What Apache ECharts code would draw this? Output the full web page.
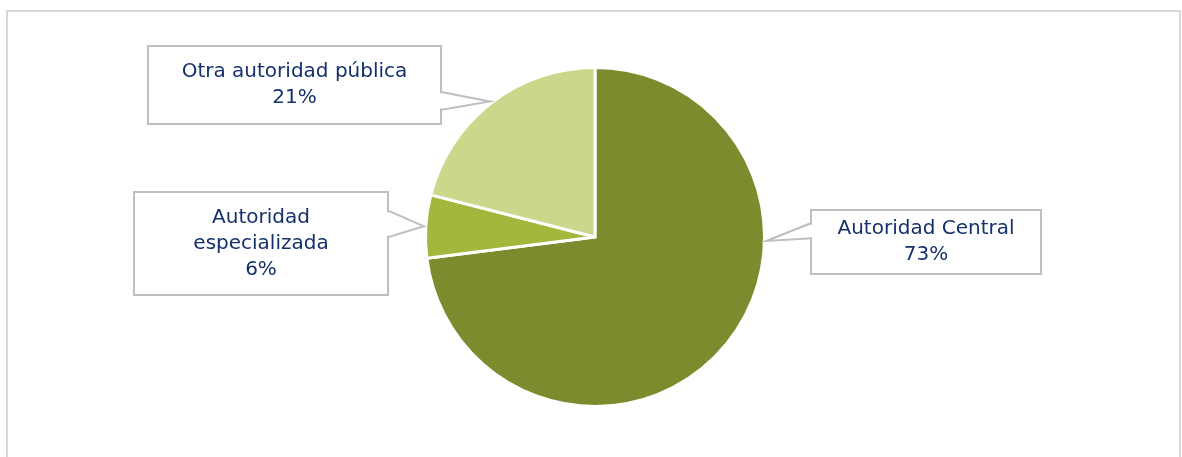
<!DOCTYPE html>
<html>
<head>
<meta charset="utf-8">
<script src="https://cdn.jsdelivr.net/npm/echarts@6/dist/echarts.min.js"></script>
<style>html,body{margin:0;padding:0;background:#fff}#c{width:1182px;height:457px}</style>
</head>
<body>
<div id="c"></div>
<script>
// ---- data ----
const categories = ['Autoridad Central', 'Autoridad especializada', 'Otra autoridad pública'];
const values = [73, 6, 21];
const colors = ['#7b8b2d', '#a4b63c', '#cbd88b'];

// ---- callout layout (box position/size, pointer base as fraction of box side) ----
const callouts = [
  { box: [812, 211, 228, 62], side: 'left',  base: [0.19, 0.44], breakName: false },
  { box: [135, 193, 252, 101], side: 'right', base: [0.17, 0.44], breakName: true },
  { box: [149, 47, 291, 76],  side: 'right', base: [0.59, 0.83], breakName: false }
];

const LH = 26;
const FONT = 'DejaVu Sans';
const chart = echarts.init(document.getElementById('c'), null, { renderer: 'canvas' });

const data = categories.map((name, i) => {
  const c = callouts[i];
  const lines = c.breakName ? 3 : 2;
  const padV = (c.box[3] - lines * LH) / 2;
  return {
    name: name,
    value: values[i],
    itemStyle: { color: colors[i] },
    label: {
      width: c.box[2],
      padding: [padV, 0, padV, 0]
    }
  };
});

const CX = 595, CY = 237, R = 169.5;

chart.setOption({
  animation: false,
  graphic: [{
    type: 'rect', z: -1, silent: true,
    shape: { x: 7, y: 11, width: 1173, height: 500 },
    style: { fill: '#fff', stroke: '#d9d9d9', lineWidth: 2 }
  }],
  series: [{
    type: 'pie',
    center: [CX, CY],
    radius: [0, R],
    startAngle: 90,
    clockwise: true,
    silent: true,
    itemStyle: { borderColor: '#fff', borderWidth: 3 },
    labelLine: { show: false },
    label: {
      show: true,
      position: 'outside',
      fontFamily: FONT,
      fontSize: 20,
      lineHeight: LH,
      color: '#15316b',
      align: 'center',
      backgroundColor: '#fff',
      borderColor: '#bfbfbf',
      borderWidth: 2,
      formatter: function (p) {
        const c = callouts[p.dataIndex];
        const nm = c.breakName ? p.name.replace(' ', '\n') : p.name;
        return nm + '\n' + Math.round(p.percent) + '%';
      }
    },
    labelLayout: function (p) {
      const b = callouts[p.dataIndex].box;
      return { x: b[0] + b[2] / 2, y: b[1] + b[3] / 2, align: 'center', verticalAlign: 'middle' };
    },
    data: data
  }]
});

// ---- callout pointers, derived from the pie's own layout ----
function drawPointers() {
  const sd = chart.getModel().getSeriesByIndex(0).getData();
  const els = [];
  callouts.forEach((c, i) => {
    const lay = sd.getItemLayout(i);
    const cx = lay.cx, cy = lay.cy, r = lay.r + 2;
    const mid = (lay.startAngle + lay.endAngle) / 2;
    const [bx, by, bw, bh] = c.box;
    const ex = c.side === 'right' ? bx + bw : bx;
    const y1 = by + bh * c.base[0], y2 = by + bh * c.base[1];
    // direction toward the box's centre
    let near = Math.atan2(by + bh / 2 - cy, ex - cx);
    let diff = Math.atan2(Math.sin(near - mid), Math.cos(near - mid));
    const ang = Math.abs(diff) > Math.PI / 6 ? near : mid;
    const tx = cx + r * Math.cos(ang), ty = cy + r * Math.sin(ang);
    const inset = c.side === 'right' ? -2 : 2;
    els.push({
      type: 'polygon', z: 100, silent: true,
      shape: { points: [[ex + inset, y1 + 1], [tx, ty], [ex + inset, y2 - 1]] },
      style: { fill: '#fff', stroke: null }
    });
    els.push({
      type: 'polyline', z: 101, silent: true,
      shape: { points: [[ex, y1], [tx, ty], [ex, y2]] },
      style: { stroke: '#bfbfbf', lineWidth: 2, fill: null }
    });
  });
  chart.setOption({
    graphic: [{
      type: 'rect', z: -1, silent: true,
      shape: { x: 7, y: 11, width: 1173, height: 500 },
      style: { fill: '#fff', stroke: '#d9d9d9', lineWidth: 2 }
    }].concat(els)
  }, { replaceMerge: ['graphic'] });
}
drawPointers();
</script>
</body>
</html>
